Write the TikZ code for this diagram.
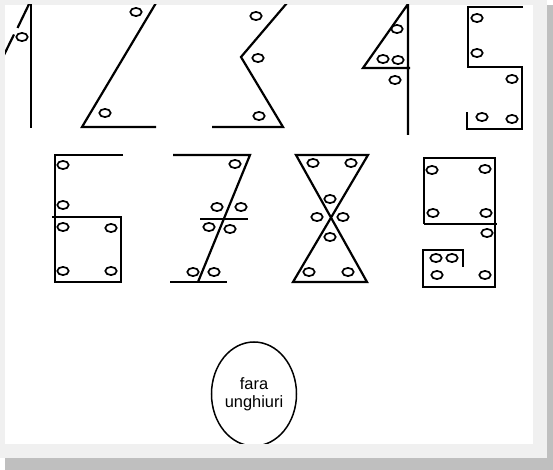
\documentclass[tikz,border=0pt]{standalone}
\usepackage{fontspec}
\setmainfont{Liberation Sans}
\usetikzlibrary{shapes.geometric}
\tikzset{
  dgline/.style={line width=1.1pt, line join=miter},
  dghole/.style={line width=0.85pt},
  dgframe/.style={fill=black!6, draw=none},
  dgshadow/.style={fill=black!25, draw=none},
  dgnote/.style={draw, ellipse, line width=0.75pt, minimum width=42.5pt, minimum height=52pt,
    align=center, inner sep=0pt, font=\fontsize{8.2}{9}\selectfont},
}
\newcommand{\dgholes}[1]{\foreach \hx/\hy in {#1} \draw[dghole] (\hx,\hy) ellipse (2.85pt and 2.05pt);}

\begin{document}
\begin{tikzpicture}[x=0.5pt, y=-0.5pt]
  \useasboundingbox (0,0) rectangle (553,470);
  % frame and shadow
  \fill[dgshadow] (5,5) rectangle (553,470);
  \fill[dgframe] (0,0) rectangle (547,458);
  \fill[white] (5,5) rectangle (533,444);

  \begin{scope}
    \clip (5,5) rectangle (533,444);
    % 1
    \draw[dgline] (31,0) -- (31,128);
    \draw[dgline] (31,0) -- (17.5,28);
    \draw[dgline] (14,34.5) -- (2,59);
    \dgholes{22/37}
    % 2
    \draw[dgline] (156,3) -- (82,127) -- (156,127);
    \dgholes{136/12, 105/113}
    % 3
    \draw[dgline] (287,3) -- (241,57) -- (283,127) -- (212,127);
    \dgholes{256/16, 258/58, 259/116}
    % 4
    \draw[dgline] (408,135) -- (408,4) -- (363,68) -- (410,68);
    \dgholes{397/29, 383/59, 398/60, 395/80}
    % 5
    \draw[dgline] (523,7) -- (468,7) -- (468,67) -- (522,67) -- (522,129) -- (467,129) -- (467,112);
    \dgholes{477/18, 477/53, 512/79, 482/117, 512/119}
    % 6
    \draw[dgline] (123,155) -- (55,155) -- (55,282) -- (121,282) -- (121,217) -- (52,217);
    \dgholes{63/165, 63/205, 63/227, 111/228, 63/271, 111/271}
    % 7
    \draw[dgline] (173,155) -- (250,155) -- (198,282);
    \draw[dgline] (200,219) -- (248,219);
    \draw[dgline] (170,282) -- (227,282);
    \dgholes{235/164, 217/207, 241/207, 209/227, 230/229, 193/272, 214/272}
    % 8
    \draw[dgline] (296,155) -- (368,155) -- (293,282) -- (367,282) -- cycle;
    \dgholes{313/163, 351/163, 330/199, 317/217, 343/217, 330/237, 309/272, 348/272}
    % 9
    \draw[dgline] (424,224) -- (424,158) -- (495,158) -- (495,287) -- (423,287) -- (423,250) -- (463,250) -- (463,267);
    \draw[dgline] (424,224) -- (497,224);
    \dgholes{432/170, 485/169, 433/213, 486/213, 487/233, 436/258, 452/258, 437/275, 485/275}
    % no corners
    \node[dgnote] (fara) at (254,394) {fara\\unghiuri};
  \end{scope}
\end{tikzpicture}
\end{document}
